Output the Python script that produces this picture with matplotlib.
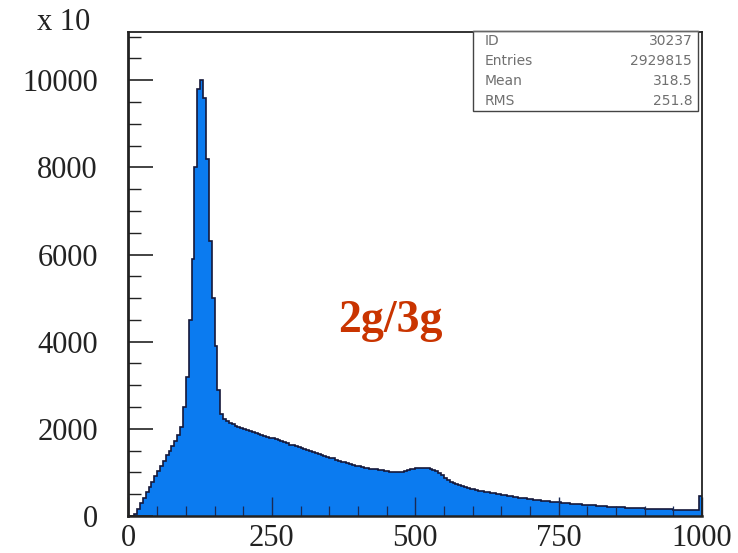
import numpy as np
import matplotlib
matplotlib.use("Agg")
import matplotlib.pyplot as plt
from matplotlib.ticker import MultipleLocator
from matplotlib.patches import Rectangle

# ---- data (y in units of "x 10") ----
bin_edges_range = (0, 1000)
n_bins = 200
counts = [
    0, 0, 40, 160, 290, 420, 540, 660, 790, 910,
    1030, 1150, 1270, 1390, 1500, 1610, 1720, 1850, 2050, 2500,
    3200, 4500, 5900, 8000, 9800, 10000, 9600, 8200, 6300, 5000,
    3900, 2900, 2350, 2220, 2170, 2130, 2100, 2070, 2040, 2010,
    1990, 1970, 1950, 1930, 1900, 1880, 1860, 1840, 1810, 1790,
    1780, 1760, 1740, 1720, 1690, 1670, 1640, 1620, 1600, 1580,
    1560, 1540, 1510, 1490, 1460, 1440, 1420, 1400, 1380, 1360,
    1340, 1320, 1290, 1270, 1250, 1230, 1210, 1190, 1170, 1150,
    1140, 1130, 1110, 1100, 1090, 1080, 1070, 1060, 1050, 1040,
    1030, 1020, 1015, 1010, 1005, 1010, 1030, 1050, 1070, 1085,
    1095, 1100, 1100, 1100, 1095, 1080, 1060, 1030, 990, 940,
    880, 830, 790, 760, 730, 705, 685, 665, 645, 630,
    615, 600, 585, 572, 560, 548, 536, 524, 512, 500,
    488, 476, 465, 455, 444, 434, 424, 414, 404, 395,
    386, 378, 370, 362, 354, 346, 339, 332, 325, 318,
    311, 305, 298, 292, 286, 280, 274, 268, 263, 257,
    252, 247, 242, 237, 232, 227, 223, 218, 214, 210,
    206, 202, 198, 194, 191, 187, 184, 181, 178, 175,
    172, 169, 166, 164, 161, 159, 157, 155, 153, 151,
    149, 147, 145, 144, 142, 141, 140, 139, 138, 470,
]
assert len(counts) == n_bins

stats_labels = ["ID", "Entries", "Mean", "RMS"]
stats_values = ["30237", "2929815", "318.5", "251.8"]
x_ticks = [0, 250, 500, 750, 1000]
y_ticks = [0, 2000, 4000, 6000, 8000, 10000]
annotation = "2g/3g"
scale_label = "x 10"

# ---- figure ----
fig = plt.figure(figsize=(7.38, 5.53), dpi=100)
ax = fig.add_axes([0.1741, 0.0669, 0.7771, 0.8747])

edges = np.linspace(bin_edges_range[0], bin_edges_range[1], n_bins + 1)
ax.stairs(counts, edges, fill=True, color="#0b7bf0", zorder=1)
ax.stairs(counts, edges, fill=False, color="#15183a", linewidth=1.2, zorder=1.2)

ax.set_xlim(0, 1000)
ax.set_ylim(0, 11100)

serif = ["Liberation Serif", "DejaVu Serif"]
ax.set_xticks(x_ticks)
ax.set_yticks(y_ticks)
ax.xaxis.set_minor_locator(MultipleLocator(50))
ax.yaxis.set_minor_locator(MultipleLocator(500))
ax.set_xticklabels([str(v) for v in x_ticks], fontfamily=serif, fontsize=22, color="#222222")
ax.set_yticklabels([str(v) for v in y_ticks], fontfamily=serif, fontsize=22, color="#222222")

ax.tick_params(axis="y", which="major", direction="in", length=18, width=1.2,
               color="#222222", pad=22, right=False)
ax.tick_params(axis="y", which="minor", direction="in", length=9.5, width=1.0,
               color="#222222", right=False)
ax.tick_params(axis="x", which="major", direction="in", length=14, width=1.0,
               color="#1a2a55", pad=6, top=False)
ax.tick_params(axis="x", which="minor", direction="in", length=7, width=0.9,
               color="#1a2a55", top=False)

for side, sp in ax.spines.items():
    sp.set_color("#222222")
    sp.set_linewidth(1.3)
ax.spines["left"].set_linewidth(2.0)
ax.spines["bottom"].set_linewidth(1.8)

# stats box
box = Rectangle((0.601, 0.837), 0.392, 0.166, transform=ax.transAxes,
                facecolor="white", edgecolor="#444444", linewidth=1.0,
                zorder=5, clip_on=False)
ax.add_patch(box)
ax.plot([0.601, 0.993], [1.003, 1.003], transform=ax.transAxes, color="#666666",
        linewidth=1.0, zorder=6, clip_on=False)
row_y = [0.982, 0.941, 0.899, 0.858]
for lab, val, yy in zip(stats_labels, stats_values, row_y):
    ax.text(0.6216, yy, lab, transform=ax.transAxes, fontsize=10,
            fontfamily=["DejaVu Sans"], color="#707070", va="center", ha="left", zorder=7)
    ax.text(0.983, yy, val, transform=ax.transAxes, fontsize=10,
            fontfamily=["DejaVu Sans"], color="#707070", va="center", ha="right", zorder=7)

# annotation
ax.text(0.456, 0.380, annotation, transform=ax.transAxes, fontsize=33,
        fontweight="bold", fontfamily=serif, color="#c93400",
        ha="center", va="baseline", zorder=8)

# "x 10" scale label
fig.text(90 / 738, 1 - 30 / 553, scale_label, fontsize=22, fontfamily=serif,
         color="#222222", ha="right", va="baseline")

fig.savefig("out.png", dpi=100, facecolor="white")
